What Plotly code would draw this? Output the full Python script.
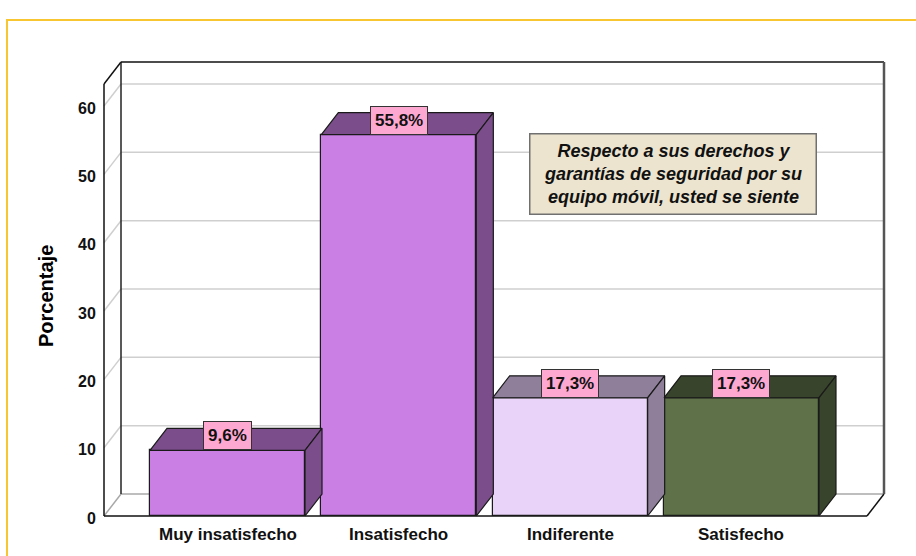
import plotly.graph_objects as go

# ---- data ----
categories = ["Muy insatisfecho", "Insatisfecho", "Indiferente", "Satisfecho"]
values = [9.6, 55.8, 17.3, 17.3]
tick_values = [0, 10, 20, 30, 40, 50, 60]
y_title = "Porcentaje"
box_title = "Respecto a sus derechos y<br>garantías de seguridad por su<br>equipo móvil, usted se siente"

# ---- styles ----
front_colors = ["#C97FE4", "#C97FE4", "#EAD3F8", "#5E7148"]
dark_colors = ["#7B4D8B", "#7B4D8B", "#8F7F9A", "#38442B"]
label_bg = "#FDA8D0"
grid_col = "#CFCFCF"
FONT = "Liberation Sans, Arial, sans-serif"

W, H = 916, 556
PL, PR, PT, PB = 98, 891, 56, 522      # plot area in pixels
X0PX, XSTEP = 227.5, 171.33             # first bar centre / spacing (px)
Y0PX, YSTEP = 516, 6.833                # zero line / px per unit


def ux(px):
    return (px - X0PX) / XSTEP


def uy(py):
    return (Y0PX - py) / YSTEP


xr = [ux(PL), ux(PR)]
yr = [uy(PB), uy(PT)]
xL, xR = ux(104), ux(884)
yTop = uy(62)
dx = 17 / XSTEP
dy = 22 / YSTEP
bw = 155 / XSTEP

fig = go.Figure()

# front faces
xs = list(range(len(categories)))
fig.add_trace(go.Bar(
    x=xs, y=values, width=bw,
    marker=dict(color=front_colors, line=dict(color="#1a1a1a", width=1.2)),
    hoverinfo="skip", showlegend=False))

# top and side faces
for i, v in enumerate(values):
    a, b = i - bw / 2, i + bw / 2
    fig.add_trace(go.Scatter(
        x=[a, b, b + dx, a + dx, a], y=[v, v, v + dy, v + dy, v],
        fill="toself", fillcolor=dark_colors[i], mode="lines",
        line=dict(color="#1a1a1a", width=1.2), hoverinfo="skip", showlegend=False))
    fig.add_trace(go.Scatter(
        x=[b, b + dx, b + dx, b, b], y=[0, dy, v + dy, v, 0],
        fill="toself", fillcolor=dark_colors[i], mode="lines",
        line=dict(color="#1a1a1a", width=1.2), hoverinfo="skip", showlegend=False))

shapes = []
# grid lines on back and left walls
for t in tick_values[1:]:
    if t + dy <= yTop:
        shapes.append(dict(type="line", xref="x", yref="y", x0=xL + dx, x1=xR,
                           y0=t + dy, y1=t + dy, line=dict(color=grid_col, width=1.5), layer="below"))
    shapes.append(dict(type="line", xref="x", yref="y", x0=xL, x1=xL + dx,
                       y0=t, y1=t + dy, line=dict(color=grid_col, width=1.5), layer="below"))
# floor
shapes.append(dict(type="line", xref="x", yref="y", x0=xL + dx, x1=xR, y0=dy, y1=dy,
                   line=dict(color="#A8A8A8", width=1.5), layer="below"))
shapes.append(dict(type="line", xref="x", yref="y", x0=xL, x1=xL + dx, y0=0, y1=dy,
                   line=dict(color="#A8A8A8", width=1.5), layer="below"))
shapes.append(dict(type="line", xref="x", yref="y", x0=xL, x1=xR - dx, y0=0, y1=0,
                   line=dict(color="#111111", width=1.5), layer="below"))
shapes.append(dict(type="line", xref="x", yref="y", x0=xR - dx, x1=xR, y0=0, y1=dy,
                   line=dict(color="#111111", width=1.5), layer="below"))
# walls outline
shapes.append(dict(type="line", xref="x", yref="y", x0=xL, x1=xL, y0=0, y1=yTop - dy,
                   line=dict(color="#111111", width=1.5), layer="below"))
shapes.append(dict(type="line", xref="x", yref="y", x0=xL, x1=xL + dx, y0=yTop - dy, y1=yTop,
                   line=dict(color="#111111", width=1.5), layer="below"))
shapes.append(dict(type="line", xref="x", yref="y", x0=xL + dx, x1=xL + dx, y0=dy, y1=yTop,
                   line=dict(color="#222222", width=1.5), layer="below"))
shapes.append(dict(type="line", xref="x", yref="y", x0=xL + dx, x1=xR, y0=yTop, y1=yTop,
                   line=dict(color="#111111", width=1.5), layer="below"))
shapes.append(dict(type="line", xref="x", yref="y", x0=xR, x1=xR, y0=dy, y1=yTop,
                   line=dict(color="#555555", width=2.5), layer="below"))


# yellow page frame (paper coords from pixels)
def px2paper_x(px):
    return (px - PL) / (PR - PL)


def py2paper_y(py):
    return (PB - py) / (PB - PT)


shapes.append(dict(type="rect", xref="paper", yref="paper",
                   x0=px2paper_x(7), x1=px2paper_x(940), y0=py2paper_y(580), y1=py2paper_y(20),
                   line=dict(color="#F8C630", width=2), fillcolor="rgba(0,0,0,0)", layer="below"))

annotations = []
# y tick labels
for t in tick_values:
    annotations.append(dict(x=xL, y=t, xref="x", yref="y", text=str(t), showarrow=False,
                            xanchor="right", yanchor="middle", xshift=-6, yshift=-2,
                            font=dict(family=FONT, size=16, color="#111111", weight="bold")))
# category labels
for i, c in enumerate(categories):
    annotations.append(dict(x=i, y=0, xref="x", yref="y", text=c, showarrow=False,
                            xanchor="center", yanchor="middle", yshift=-18,
                            font=dict(family=FONT, size=17, color="#111111", weight="bold")))
# value labels
for i, v in enumerate(values):
    txt = f"{v:.1f}".replace(".", ",") + "%"
    annotations.append(dict(x=i, y=v, xref="x", yref="y", text=txt, showarrow=False,
                            xanchor="center", yanchor="bottom", bgcolor=label_bg,
                            bordercolor="#333333", borderwidth=1, borderpad=4,
                            font=dict(family=FONT, size=17, color="#111111", weight="bold")))
# y title
annotations.append(dict(x=px2paper_x(46), y=py2paper_y(296), xref="paper", yref="paper",
                        text=y_title, showarrow=False, textangle=-90,
                        xanchor="center", yanchor="middle",
                        font=dict(family=FONT, size=20, color="#000000", weight="bold")))
# boxed title
annotations.append(dict(x=px2paper_x(672.5), y=py2paper_y(173.5), xref="paper", yref="paper",
                        text=box_title, showarrow=False, xanchor="center", yanchor="middle",
                        width=283, height=77, bgcolor="#ECE4CF", bordercolor="#707070",
                        borderwidth=1.5, borderpad=1, align="center",
                        font=dict(family=FONT, size=18, color="#111111", weight="bold",
                                  style="italic")))

fig.update_layout(
    width=W, height=H,
    margin=dict(l=PL, r=W - PR, t=PT, b=H - PB, pad=0),
    paper_bgcolor="white", plot_bgcolor="white",
    xaxis=dict(range=xr, showgrid=False, zeroline=False, showticklabels=False,
               showline=False, fixedrange=True),
    yaxis=dict(range=yr, showgrid=False, zeroline=False, showticklabels=False,
               showline=False, fixedrange=True),
    shapes=shapes, annotations=annotations, bargap=0,
)

fig.write_html("out.html", config={"displayModeBar": False},
               post_script="document.body.style.margin='0px';")
